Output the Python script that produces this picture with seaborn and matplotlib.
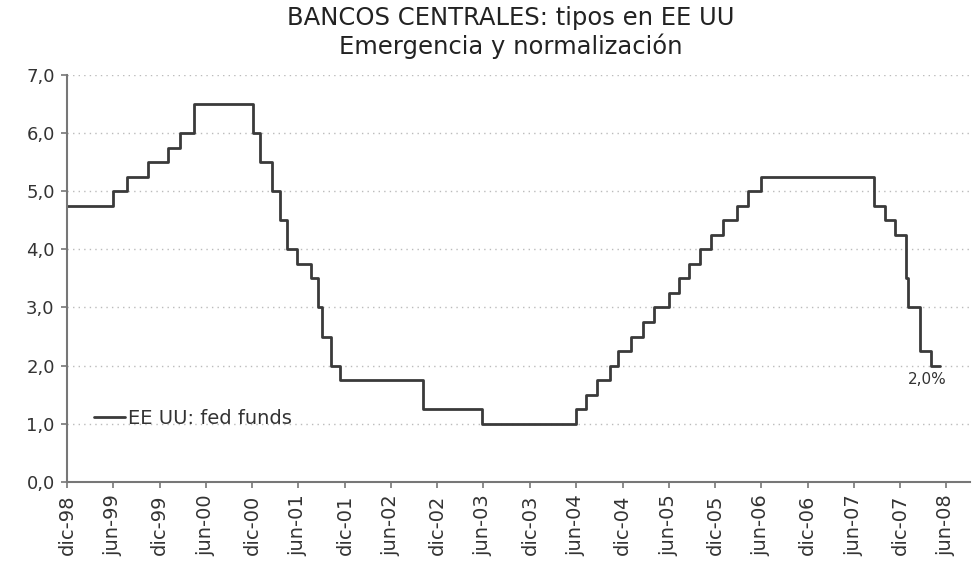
import matplotlib
matplotlib.use("Agg")
import matplotlib.pyplot as plt
import seaborn as sns
import pandas as pd

# Fed funds target rate (step changes)
change_dates = ["1998-12-31", "1999-06-30", "1999-08-24", "1999-11-16", "2000-02-02",
                "2000-03-21", "2000-05-16", "2001-01-03", "2001-01-31", "2001-03-20",
                "2001-04-18", "2001-05-15", "2001-06-27", "2001-08-21", "2001-09-17",
                "2001-10-02", "2001-11-06", "2001-12-11", "2002-11-06", "2003-06-25",
                "2004-06-30", "2004-08-10", "2004-09-21", "2004-11-10", "2004-12-14",
                "2005-02-02", "2005-03-22", "2005-05-03", "2005-06-30", "2005-08-09",
                "2005-09-20", "2005-11-01", "2005-12-13", "2006-01-31", "2006-03-28",
                "2006-05-10", "2006-06-29", "2007-09-18", "2007-10-31", "2007-12-11",
                "2008-01-22", "2008-01-30", "2008-03-18", "2008-04-30", "2008-06-06"]
rates = [4.75, 5.00, 5.25, 5.50, 5.75,
         6.00, 6.50, 6.00, 5.50, 5.00,
         4.50, 4.00, 3.75, 3.50, 3.00,
         2.50, 2.00, 1.75, 1.25, 1.00,
         1.25, 1.50, 1.75, 2.00, 2.25,
         2.50, 2.75, 3.00, 3.25, 3.50,
         3.75, 4.00, 4.25, 4.50, 4.75,
         5.00, 5.25, 4.75, 4.50, 4.25,
         3.50, 3.00, 2.25, 2.00, 2.00]
series_name = "EE UU: fed funds"
tick_labels = ["dic-98", "jun-99", "dic-99", "jun-00", "dic-00", "jun-01", "dic-01",
               "jun-02", "dic-02", "jun-03", "dic-03", "jun-04", "dic-04", "jun-05",
               "dic-05", "jun-06", "dic-06", "jun-07", "dic-07", "jun-08"]
tick_dates = pd.date_range("1998-12-01", "2008-06-01", freq="6MS") + pd.offsets.MonthEnd(0)
y_ticks = [0, 1, 2, 3, 4, 5, 6, 7]
last_label = "2,0%"
title_lines = ["BANCOS CENTRALES: tipos en EE UU", "Emergencia y normalización"]

df = pd.DataFrame({"fecha": pd.to_datetime(change_dates), "tipo": rates, "serie": series_name})

sns.set_style("white")
plt.rcParams["font.family"] = ["DejaVu Sans"]

fig = plt.figure(figsize=(9.73, 5.67), dpi=100)
ax = fig.add_axes([0.069, 0.150, 0.928, 0.718])

sns.lineplot(data=df, x="fecha", y="tipo", hue="serie", palette=["#3a3a3a"],
             drawstyle="steps-post", linewidth=2.0, ax=ax)

ax.set_xlim(pd.Timestamp("1998-12-31"), pd.Timestamp("2008-10-02"))
ax.set_ylim(0, 7)
ax.set_yticks(y_ticks)
ax.set_yticklabels([f"{v:.1f}".replace(".", ",") for v in y_ticks], fontsize=13, color="#333333")
ax.set_xticks(tick_dates)
ax.set_xticklabels(tick_labels, rotation=90, fontsize=14, color="#333333")
ax.set_xlabel("")
ax.set_ylabel("")

for v in y_ticks[1:]:
    ax.axhline(v, color="#bbbbbb", linestyle=(0, (1, 3)), linewidth=1.0, zorder=0)

for s in ["top", "right"]:
    ax.spines[s].set_visible(False)
for s in ["left", "bottom"]:
    ax.spines[s].set_color("#777777")
    ax.spines[s].set_linewidth(1.5)
ax.tick_params(axis="both", which="both", direction="out", length=4, width=1.2,
               color="#777777", left=True, bottom=True, pad=5)

leg = ax.legend(loc="center left", bbox_to_anchor=(0.01, 0.157), frameon=False,
                fontsize=14, handlelength=1.6, handletextpad=0.15)
for t in leg.get_texts():
    t.set_color("#333333")

ax.annotate(last_label, xy=(pd.Timestamp(change_dates[-1]), rates[-1]),
            xytext=(-9, -10), textcoords="offset points", ha="center", va="center",
            fontsize=11, color="#333333")

fig.text(0.525, 0.968, title_lines[0], ha="center", va="center",
         fontsize=17.5, color="#222222")
fig.text(0.525, 0.919, title_lines[1], ha="center", va="center",
         fontsize=17.5, color="#222222")

fig.savefig("out.png", dpi=100)
